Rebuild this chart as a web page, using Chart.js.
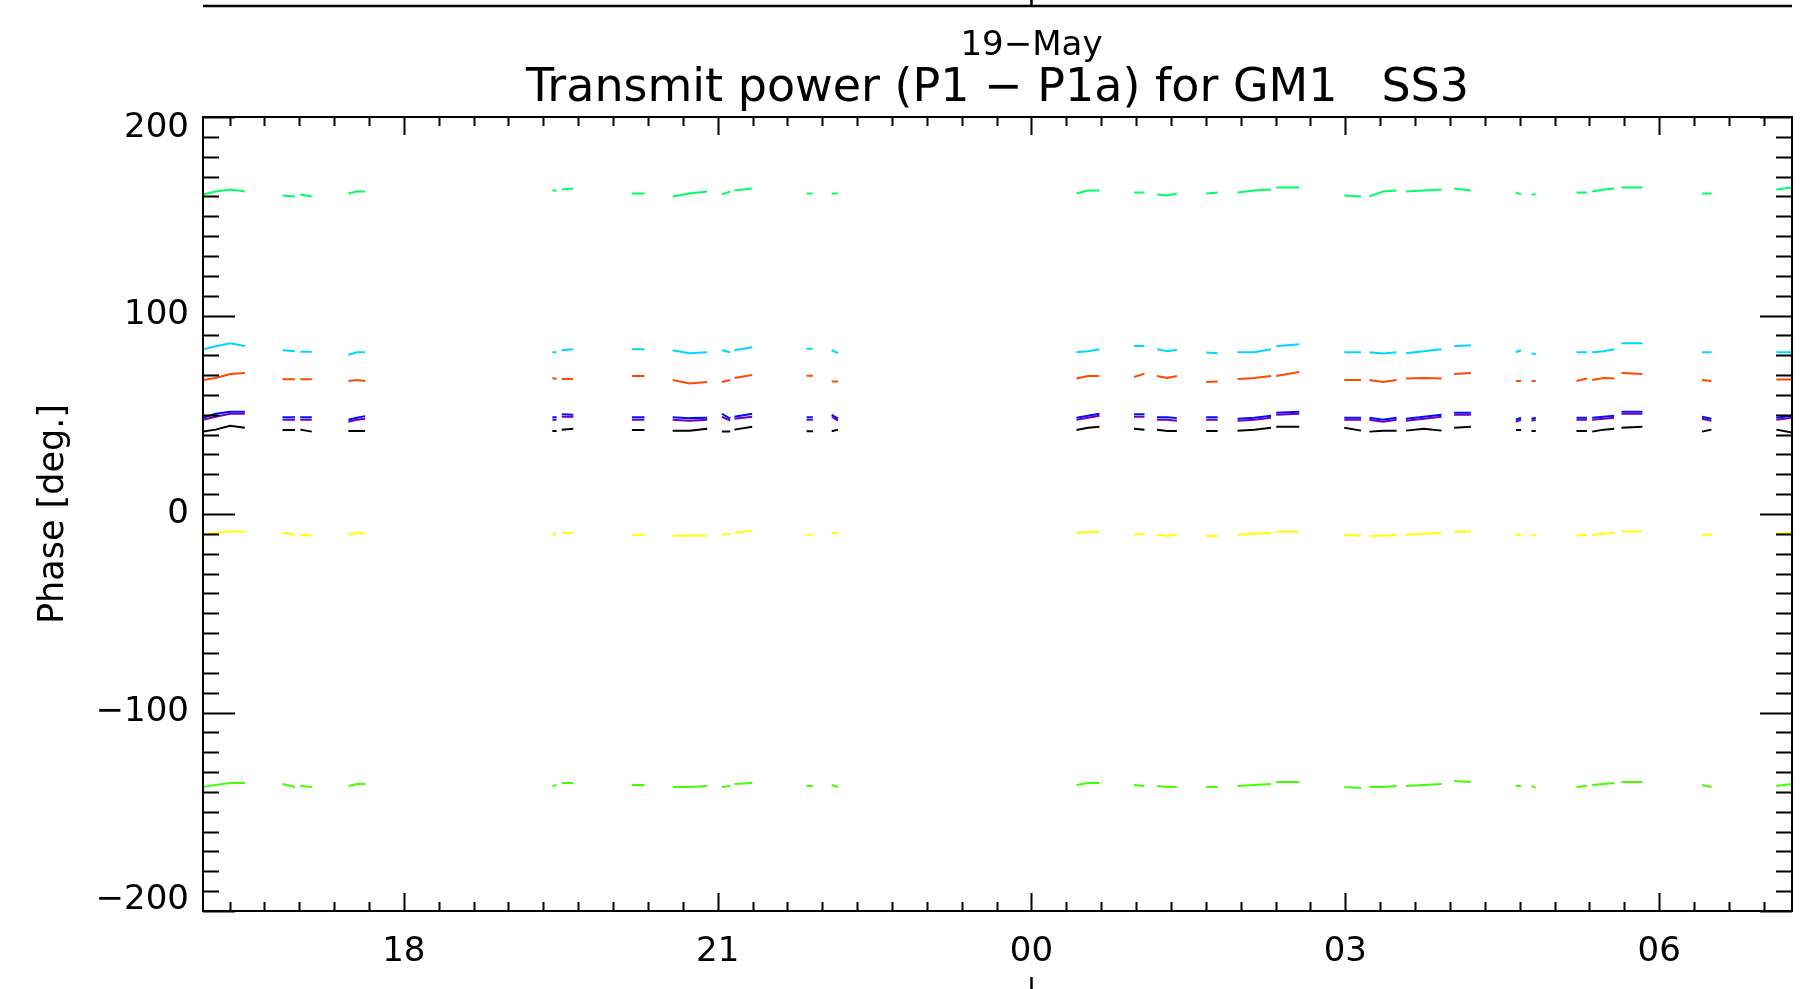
<!DOCTYPE html>
<html>
<head>
<meta charset="utf-8">
<script src="https://cdn.jsdelivr.net/npm/chart.js@4.4.1/dist/chart.umd.min.js"></script>
<style>
  html, body { margin: 0; padding: 0; background: #fff; }
  #wrap { width: 1812px; height: 989px; position: relative; }
</style>
</head>
<body>
<div id="wrap"><canvas id="myChart"></canvas></div>
<script>
// hours relative to 00:00 on 19-May, one list per data run
var segTimes = [
  [-7.92, -7.80, -7.66, -7.52],
  [-7.16, -7.04],
  [-6.99, -6.88],
  [-6.53, -6.45, -6.37],
  [-4.58, -4.54],
  [-4.49, -4.38],
  [-3.82, -3.70],
  [-3.43, -3.27, -3.10],
  [-2.96, -2.88],
  [-2.84, -2.67],
  [-2.15, -2.09],
  [-1.91, -1.85],
  [0.43, 0.54, 0.65],
  [0.98, 1.08],
  [1.20, 1.30, 1.39],
  [1.67, 1.78],
  [1.97, 2.13, 2.29],
  [2.34, 2.56],
  [2.99, 3.15],
  [3.23, 3.36, 3.49],
  [3.58, 3.75, 3.92],
  [4.04, 4.20],
  [4.63, 4.68],
  [4.78, 4.82],
  [5.21, 5.31],
  [5.36, 5.47, 5.57],
  [5.64, 5.84],
  [6.41, 6.50],
  [7.12, 7.27]
];

var greenTop = [
  [161, 162.5, 163.5, 162.5], [160.5, 160], [161, 160], [161.5, 162.5, 162.5],
  [163, 163], [163.5, 164], [161.5, 161.5], [160, 161.5, 162.5],
  [161, 162.5], [163, 164], [161.5, 161.5], [161.5, 161.5],
  [161.5, 163, 163], [162, 162], [161, 160.5, 161.5], [161.5, 162],
  [162, 163, 163.5], [164.5, 164.5], [160.5, 160], [160, 162.5, 163],
  [162.5, 163, 163.5], [164, 163], [162, 161], [161, 161],
  [162, 162], [162.5, 163.5, 164], [164.5, 164.5], [161.5, 161.5], [163.5, 164.5]
];
var cyan = [
  [83, 84.5, 86, 84.6], [82.5, 82], [81.8, 81.8], [80.2, 81.5, 81.5],
  [81.5, 81.5], [82.5, 83], [83, 83], [82.5, 81, 81.5],
  [82.5, 81.5], [82.5, 84], [83.2, 83.2], [82.5, 81],
  [81.5, 82, 83], [84.6, 84.6], [83, 82, 82.8], [81.3, 81],
  [81.5, 81.5, 83], [84.5, 85.5], [81.5, 81.5], [81.5, 80.8, 81.5],
  [81, 82, 83], [84.5, 85], [81.5, 82.5], [81, 80.5],
  [81.5, 81.5], [81.5, 82, 83], [86, 86], [81.5, 81.5], [81.5, 81.5]
];
var orange = [
  [67.5, 68.5, 70.5, 71], [67.9, 67.9], [67.9, 67.9], [67, 67.5, 67],
  [68.5, 68], [68, 68], [69.5, 69.5], [67.5, 65.8, 66.5],
  [66.5, 67.5], [68.5, 70], [69.7, 69.7], [66.8, 66.8],
  [68.3, 69.5, 69.5], [69, 70.7], [69.5, 68.5, 69.5], [66.5, 66.8],
  [68, 68.5, 69.5], [69.5, 71.5], [67.5, 67.5], [67.5, 66.5, 67.5],
  [68.3, 68.5, 68.3], [70.5, 71], [67, 67], [67, 67],
  [67, 68.3], [67.5, 68.5, 68.3], [71, 70.5], [67.5, 67], [67.8, 67.8]
];
var violet = [
  [47.5, 49, 50.5, 50.5], [47.5, 47.5], [47.5, 47.5], [46.5, 47.5, 48],
  [47.5, 47.5], [49, 49], [47.5, 47.5], [47.5, 47, 47.5],
  [49, 47], [48, 49], [47.5, 47.5], [49, 47],
  [47.5, 48.5, 49.5], [49, 49], [47.5, 47.5, 47], [47.5, 47.5],
  [47, 47.5, 48.5], [50, 50.5], [47.5, 47.5], [47.5, 46.5, 47.5],
  [47, 48, 49], [50, 50], [46.5, 47.5], [47, 47.5],
  [47.5, 47.5], [47.5, 48, 48.5], [50.5, 50.5], [48, 47], [47.5, 48.5]
];
var blue = [
  [48.5, 50.5, 51.5, 51.5], [48.7, 48.7], [48.7, 48.7], [47.5, 48.5, 49.3],
  [48.7, 48.7], [50.3, 50], [48.7, 48.7], [48.7, 48.3, 48.5],
  [50.5, 48], [49, 50.5], [48.7, 48.7], [50, 48],
  [48.5, 49.5, 50.5], [50.3, 50.3], [48.7, 48.7, 48.3], [48.7, 48.7],
  [48, 48.5, 49.5], [51, 51.5], [48.5, 48.5], [48.5, 47.5, 48.5],
  [48, 49, 50], [51, 51], [47.5, 48.5], [48, 48.5],
  [48.5, 48.5], [48.5, 49, 49.5], [51.5, 51.5], [49, 48], [48.5, 49.5]
];
var black = [
  [41.5, 42.5, 44.5, 43.5], [42.3, 42.3], [42.5, 41.5], [41.8, 41.8, 41.8],
  [41.8, 41.8], [42.5, 43], [42.3, 42.3], [42, 42, 43],
  [41.5, 41.5], [42.5, 44], [41.7, 41.7], [41.7, 42.5],
  [42.3, 43.5, 44], [43, 42.5], [42.5, 41.8, 41.8], [41.8, 41.8],
  [42, 42.5, 43.5], [44, 44], [43.5, 42], [41.5, 42, 42],
  [42, 43, 42], [43.5, 44], [42.3, 42.3], [41.8, 41.8],
  [41.8, 41.8], [41.5, 42.5, 43], [43.5, 44], [41.5, 42.5], [42.5, 41]
];
var yellow = [
  [-10.5, -9.5, -8.8, -8.8], [-9.5, -10.5], [-10.5, -11], [-10.5, -9.5, -10],
  [-10.5, -10], [-9.5, -9.5], [-10.5, -10.5], [-11, -11, -11],
  [-10.5, -10], [-9.5, -8.5], [-10.5, -10.5], [-10, -9.5],
  [-9.5, -9, -9], [-10.5, -10], [-10.5, -11, -10.5], [-11, -11],
  [-10.5, -10, -9.5], [-9, -9], [-10.5, -11], [-11, -11, -10.5],
  [-10.5, -10, -9.5], [-9, -9], [-10.5, -10.5], [-10.5, -11],
  [-11, -10.5], [-10.5, -10, -9.5], [-8.8, -8.8], [-10.5, -10.5], [-10, -9.5]
];
var greenLow = [
  [-137.5, -136.5, -135.5, -135.5], [-136, -137.5], [-137, -137.5], [-137, -136, -136],
  [-137, -136.5], [-135.5, -135.5], [-136.5, -136.5], [-137.5, -137.5, -137],
  [-137.5, -137], [-136, -135.5], [-137, -137], [-136.5, -137.5],
  [-136.5, -135.5, -135.5], [-136.5, -137], [-137, -137.5, -137.5], [-137.5, -137.5],
  [-137, -136.5, -136], [-135, -135], [-137.5, -138], [-137.5, -137.5, -137],
  [-137, -136.5, -136], [-134.5, -135], [-137, -137], [-137, -138],
  [-137.5, -137], [-136.5, -136, -135.5], [-135, -135], [-136.5, -137.5], [-137, -136]
];

var xMin = -7.92, xMax = 7.27;
var yMin = -200, yMax = 200;
var FONT = '"DejaVu Sans", "Liberation Sans", sans-serif';

// one point per sample, with a null between runs so the line breaks
function build(values) {
  var pts = [];
  segTimes.forEach(function (seg, i) {
    if (i > 0) {
      var prev = segTimes[i - 1];
      pts.push({ x: (prev[prev.length - 1] + seg[0]) / 2, y: null });
    }
    seg.forEach(function (t, j) { pts.push({ x: t, y: values[i][j] }); });
  });
  return pts;
}

function ds(values, color) {
  return {
    data: build(values),
    borderColor: color,
    backgroundColor: color,
    borderWidth: 2,
    pointRadius: 0,
    spanGaps: false,
    tension: 0
  };
}

function minus(s) { return String(s).replace('-', '\u2212'); }

// IDL style box with inward ticks, titles and the bits of the neighbouring plots
var idlFrame = {
  id: 'idlFrame',
  afterDraw: function (chart) {
    var ctx = chart.ctx, a = chart.chartArea;
    var x = chart.scales.x, y = chart.scales.y;
    ctx.save();
    ctx.strokeStyle = '#000';
    ctx.lineWidth = 2;
    ctx.strokeRect(a.left, a.top, a.right - a.left, a.bottom - a.top);
    ctx.beginPath();
    x.ticks.forEach(function (t) {
      var px = Math.round(x.getPixelForValue(t.value)) + 0.5;
      var major = Math.round(t.value * 3) % 9 === 0;
      var len = major ? 18 : 9;
      ctx.moveTo(px, a.bottom); ctx.lineTo(px, a.bottom - len);
      ctx.moveTo(px, a.top); ctx.lineTo(px, a.top + len);
    });
    y.ticks.forEach(function (t) {
      var py = Math.round(y.getPixelForValue(t.value)) + 0.5;
      var major = Math.round(t.value) % 100 === 0;
      var len = major ? 32 : 16;
      ctx.moveTo(a.left, py); ctx.lineTo(a.left + len, py);
      ctx.moveTo(a.right, py); ctx.lineTo(a.right - len, py);
    });
    ctx.stroke();

    // axis of the panel above and tick of the panel below
    var mid = Math.round(x.getPixelForValue(0)) + 0.5;
    ctx.lineWidth = 2.5;
    ctx.beginPath();
    ctx.moveTo(a.left, 6); ctx.lineTo(a.right, 6);
    ctx.moveTo(mid, 0); ctx.lineTo(mid, 6);
    ctx.moveTo(mid, 977); ctx.lineTo(mid, 989);
    ctx.stroke();

    ctx.fillStyle = '#000';
    ctx.textAlign = 'center';
    ctx.textBaseline = 'alphabetic';
    ctx.font = '34px ' + FONT;
    ctx.fillText('19\u2212May', x.getPixelForValue(0), 55);
    ctx.font = '46px ' + FONT;
    ctx.fillText('Transmit power (P1 \u2212 P1a) for GM1   SS3', (a.left + a.right) / 2, 101);
    ctx.restore();
  }
};

var ctx = document.getElementById('myChart');

var phaseData = {
  datasets: [
    ds(greenTop, '#00ff66'),
    ds(yellow, '#ffff00'),
    ds(greenLow, '#44ff00'),
    ds(cyan, '#00d8ff'),
    ds(orange, '#ff4a00'),
    ds(violet, '#7000c0'),
    ds(blue, '#0010ff'),
    ds(black, '#000000')
  ]
};

var chartOptions = {
  responsive: true,
  maintainAspectRatio: false,
  animation: false,
  layout: { padding: { top: 117, right: 20, left: 0, bottom: 0 } },
  plugins: {
    legend: { display: false },
    tooltip: { enabled: false }
  },
  scales: {
    x: {
      type: 'linear',
      min: xMin,
      max: xMax,
      grid: { display: false, drawTicks: false },
      border: { display: false },
      afterBuildTicks: function (scale) {
        var ticks = [];
        for (var i = Math.ceil(xMin * 3); i <= Math.floor(xMax * 3); i++) {
          ticks.push({ value: i / 3 });
        }
        scale.ticks = ticks;
      },
      afterFit: function (scale) { scale.height = 78; },
      ticks: {
        autoSkip: false,
        maxRotation: 0,
        padding: 21,
        color: '#000',
        font: { family: FONT, size: 34 },
        callback: function (value) {
          var i = Math.round(value * 3);
          if (i % 9 !== 0) return '';
          var h = ((i / 3) % 24 + 24) % 24;
          return (h < 10 ? '0' : '') + h;
        }
      }
    },
    y: {
      min: yMin,
      max: yMax,
      grid: { display: false, drawTicks: false },
      border: { display: false },
      afterBuildTicks: function (scale) {
        var ticks = [];
        for (var v = yMin; v <= yMax; v += 10) ticks.push({ value: v });
        scale.ticks = ticks;
      },
      afterFit: function (scale) { scale.width = 203; },
      title: {
        display: true,
        text: 'Phase [deg.]',
        color: '#000',
        font: { family: FONT, size: 35 },
        padding: { top: 33, bottom: 0 }
      },
      ticks: {
        autoSkip: false,
        padding: 14,
        color: '#000',
        // the end labels sit inside the box, like IDL draws them
        font: { family: FONT, size: 34, lineHeight: 0.65 },
        callback: function (value) {
          var v = Math.round(value);
          if (v % 100 !== 0) return '';
          if (v === yMax) return ['', minus(v)];
          if (v === yMin) return [minus(v), ''];
          return minus(v);
        }
      }
    }
  }
};

var phaseChart = new Chart(ctx, {
  type: 'line',
  data: phaseData,
  options: chartOptions,
  plugins: [idlFrame]
});
</script>
</body>
</html>
